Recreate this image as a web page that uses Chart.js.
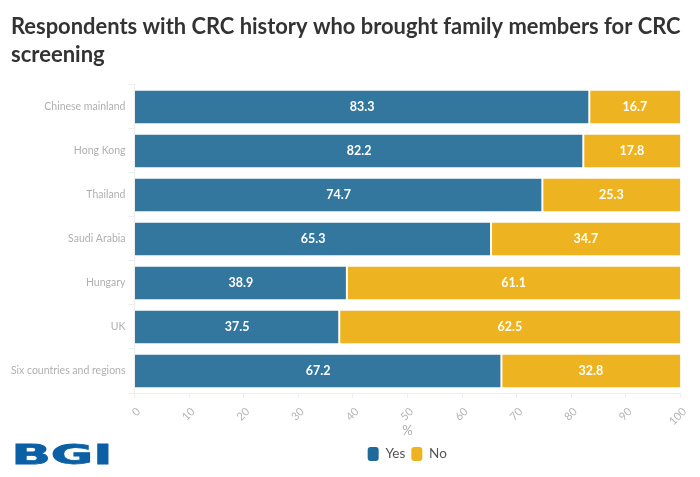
<!DOCTYPE html>
<html><head><meta charset="utf-8">
<style>
html,body{margin:0;padding:0;background:#fff;width:700px;height:477px;overflow:hidden}
#wrap{position:relative;width:700px;height:477px}
#logo{position:absolute;left:14px;top:440px;overflow:visible}
</style>
<script src="https://cdn.jsdelivr.net/npm/chart.js@4"></script>
</head><body><div id="wrap"><canvas id="c" width="700" height="477"></canvas><svg id="logo" width="96" height="30" viewBox="0 0 96 30"><text x="-2.5" y="23.5" textLength="101" lengthAdjust="spacingAndGlyphs" font-family="DejaVu Sans" font-weight="700" font-size="27" fill="#0b5fa5" stroke="#0b5fa5" stroke-width="0.8">BGI</text></svg></div>
<script>
const categories=["Chinese mainland","Hong Kong","Thailand","Saudi Arabia","Hungary","UK","Six countries and regions"];
const yesValues=[83.3,82.2,74.7,65.3,38.9,37.5,67.2];
const noValues=[16.7,17.8,25.3,34.7,61.1,62.5,32.8];
const titleLines=["Respondents with CRC history who brought family members for CRC","screening"];
const FONT='Lato';
const barLabels={id:'barLabels',afterDatasetsDraw(chart){
  const ctx=chart.ctx;ctx.save();ctx.fillStyle='#fff';ctx.font='bold 12.5px '+FONT;ctx.textAlign='center';ctx.textBaseline='middle';
  chart.data.datasets.forEach((ds,i)=>{chart.getDatasetMeta(i).data.forEach((el,j)=>{
    const c=el.getCenterPoint();ctx.fillText(ds.data[j].toFixed(1),c.x,c.y);});});
  ctx.restore();}};
const layoutShift={id:'layoutShift',afterLayout(chart){const l=chart.legend;l.left+=67;l.right+=67;chart.titleBlock.left+=11;}};
new Chart(document.getElementById('c'),{
  type:'bar',
  data:{labels:categories,datasets:[
    {label:'Yes',data:yesValues,backgroundColor:'#33779f',borderColor:'#fff',borderWidth:{right:1,left:0,top:0,bottom:0},borderSkipped:false,categoryPercentage:1,barPercentage:0.75},
    {label:'No',data:noValues,backgroundColor:'#edb320',borderColor:'#fff',borderWidth:{left:1,right:0,top:0,bottom:0},borderSkipped:false,categoryPercentage:1,barPercentage:0.75}
  ]},
  plugins:[barLabels,layoutShift],
  options:{
    responsive:false,animation:false,indexAxis:'y',devicePixelRatio:1,
    layout:{padding:{left:0,right:19.5,top:0,bottom:6}},
    scales:{
      x:{stacked:true,min:0,max:100,position:'bottom',
        afterFit(s){s.height=48;},
        ticks:{stepSize:10,color:'#b5b5b5',font:{family:FONT,size:11},minRotation:45,maxRotation:45,padding:7,labelOffset:4},
        grid:{drawOnChartArea:false,color:'#eeeeee',tickLength:5},border:{color:'#eeeeee'},
        title:{display:true,text:'%',color:'#aaaaaa',font:{family:FONT,size:13},padding:{top:4,bottom:2}}},
      y:{stacked:true,
        afterFit(s){s.width=134.5;},
        ticks:{color:'#b0b0b0',font:{family:FONT,size:10.5},padding:3},
        grid:{drawOnChartArea:false,color:'#eeeeee',tickLength:6},border:{color:'#eeeeee'}}
    },
    plugins:{
      title:{display:true,text:titleLines,align:'start',color:'#333333',font:{family:FONT,size:22,weight:'bold',lineHeight:1.27},padding:{top:13,bottom:16}},
      legend:{position:'bottom',labels:{boxWidth:11,boxHeight:14,padding:6,useBorderRadius:true,borderRadius:3,color:'#555555',font:{family:FONT,size:13.5},
        generateLabels(chart){return Chart.defaults.plugins.legend.labels.generateLabels(chart).map((it,i)=>({...it,fillStyle:['#1f6a9a','#edb320'][i],strokeStyle:'transparent',lineWidth:0,borderRadius:3}));}}},
      tooltip:{enabled:false}
    }
  }
});
</script></body></html>
